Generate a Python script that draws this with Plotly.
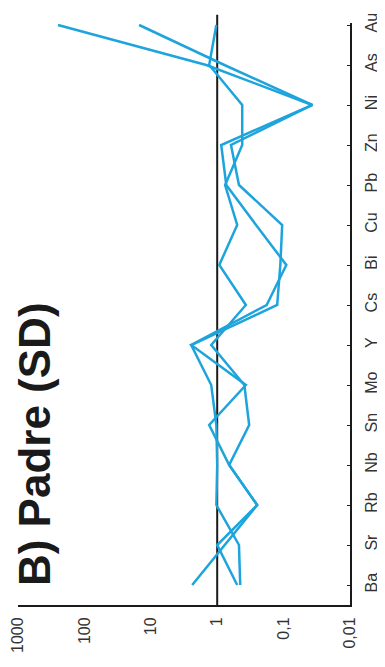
import plotly.graph_objects as go

elements = ["Ba", "Sr", "Rb", "Nb", "Sn", "Mo", "Y", "Cs", "Bi", "Cu", "Pb", "Zn", "Ni", "As", "Au"]

series_1 = [2.38, 0.78, 0.25, 0.66, 1.32, 0.37, 2.46, 0.18, 0.091, 0.26, 0.73, 0.87, 0.037, 1.46, 250]
series_2 = [0.50, 1.0, 0.25, 0.66, 0.33, 0.39, 1.23, 0.37, 0.93, 0.50, 0.76, 0.42, 0.42, 1.32, 1.03]
series_3 = [0.45, 0.47, 1.03, 1.0, 1.03, 1.23, 2.46, 0.125, 0.112, 0.105, 0.47, 0.62, 0.037, 0.78, 15]

tick_vals = [1000, 100, 10, 1, 0.1, 0.01]
tick_text = ["1000", "100", "10", "1", "0,1", "0,01"]
title_text = "B) Padre (SD)"

line_color = "#1ea4dc"
font_family = "Liberation Sans, Arial, sans-serif"

fig = go.Figure()
for s in (series_1, series_2, series_3):
    fig.add_trace(go.Scatter(x=s, y=elements, mode="lines",
                             line=dict(color=line_color, width=2.5),
                             showlegend=False, hoverinfo="skip"))

fig.add_shape(type="line", xref="x", yref="paper", x0=1, x1=1, y0=0, y1=1.014,
              line=dict(color="#1a1a1a", width=2), layer="below")

fig.add_annotation(text=title_text, textangle=-90, xref="paper", yref="paper",
                   x=0.052, y=0.277, xanchor="center", yanchor="middle",
                   showarrow=False, borderpad=0,
                   font=dict(family=font_family, size=44, color="#1a1a1a", weight="bold"))

# page body adds an 8px offset, so the figure is sized to fit the 385x667 window
fig.update_layout(
    width=377, height=659,
    margin=dict(l=10, r=35, t=15, b=62),
    paper_bgcolor="white", plot_bgcolor="white",
    font=dict(family=font_family, size=16, color="#333333"),
    xaxis=dict(type="log", range=[3, -2], tickvals=tick_vals, ticktext=tick_text,
               tickangle=-90, showline=True, linecolor="#1a1a1a", linewidth=2,
               showgrid=False, zeroline=False, ticks="", mirror=False,
               automargin=False, ticklabelstandoff=4),
    yaxis=dict(type="category", categoryorder="array", categoryarray=elements,
               range=[-0.5, 14.05], side="right", tickangle=-90,
               showline=True, linecolor="#1a1a1a", linewidth=2,
               ticks="inside", ticklen=3, tickcolor="#1a1a1a",
               showgrid=False, zeroline=False, automargin=False,
               ticklabelstandoff=6),
)

fig.write_html("out.html")
